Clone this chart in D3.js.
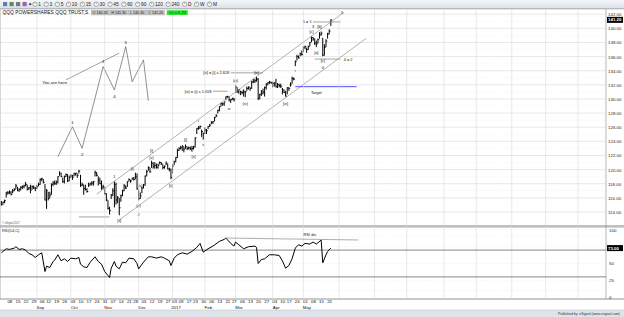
<!DOCTYPE html>
<html><head><meta charset="utf-8">
<script src="https://cdn.jsdelivr.net/npm/d3@7/dist/d3.min.js"></script>
<style>html,body{margin:0;padding:0;background:#fff;overflow:hidden}svg{display:block;font-family:"Liberation Sans",Arial,sans-serif}</style>
</head><body><svg id="c" width="624" height="317"></svg>
<script>
// ---------------- DATA ----------------
const holidays = ["2016-09-05","2016-11-24","2016-12-26","2017-01-02","2017-01-16","2017-02-20","2017-04-14","2017-05-29","2017-07-04","2017-09-04","2017-11-23","2017-12-25","2018-01-01"];
const firstBarDate = "2016-08-02";
const highs = [
 115.6,115.5,115.8,116.9,117.0,117.1,117.0,117.3,117.4,118.0,117.6,117.4,117.7,117.8,117.9,118.3,117.9,117.6,117.9,117.8,117.8,117.6,
 117.9,118.2,118.8,118.9,118.7,118.0,117.3,116.9,116.9,118.1,118.4,118.5,118.5,119.1,119.8,119.6,118.9,119.2,119.5,119.4,119.2,
 119.4,119.3,119.6,119.6,119.5,120.0,119.3,118.2,117.9,117.9,117.4,118.2,118.2,118.4,118.4,119.9,119.7,119.1,118.9,118.5,117.9,
 117.6,116.7,115.7,114.8,116.6,117.4,118.4,118.2,116.3,116.0,116.5,117.2,118.0,117.8,118.4,118.8,118.6,118.9,119.0,119.6,119.5,
 117.2,116.8,117.6,118.0,119.2,120.0,120.5,120.3,121.3,121.1,121.1,120.9,120.9,121.2,121.1,120.8,120.6,121.2,120.9,120.3,120.2,
 120.8,121.3,121.8,123.0,123.2,123.4,123.5,123.3,123.6,123.3,123.3,123.3,123.4,123.4,124.6,125.9,126.2,126.3,125.7,125.3,
 126.0,125.8,126.2,126.5,126.9,126.9,127.5,127.9,128.5,129.0,129.5,129.5,129.6,130.4,130.5,130.4,130.0,130.2,130.2,
 132.0,131.7,131.4,131.2,131.2,131.4,131.2,131.8,131.8,131.7,132.6,132.9,132.9,133.2,133.0,130.8,131.3,131.5,131.8,132.3,132.4,132.6,132.5,
 132.5,132.4,132.9,132.3,132.2,132.2,131.6,131.4,131.2,131.7,131.7,132.4,133.2,133.1,135.5,136.3,136.2,136.6,136.9,
 137.5,137.6,137.3,137.6,138.1,138.9,138.8,138.6,138.3,138.6,139.5,139.6,138.7,137.8,138.5,139.4,139.9,141.3];
const lows = [
 114.9,115.0,115.2,116.0,116.4,116.5,116.3,116.6,116.9,117.2,116.9,116.8,117.0,117.2,117.3,117.6,117.0,117.1,116.6,117.1,117.2,116.9,
 117.2,117.6,117.8,118.3,118.0,115.6,114.4,115.6,115.9,116.4,117.6,117.8,117.8,118.0,119.1,118.9,118.1,118.0,118.9,118.2,118.3,
 118.8,118.5,119.0,119.1,118.8,119.4,117.5,117.6,116.4,117.0,116.7,117.5,117.7,117.7,117.7,119.0,119.0,117.7,117.9,117.1,117.2,
 116.4,115.5,114.3,113.6,115.8,116.2,114.6,115.0,115.2,113.5,115.4,116.2,116.9,117.2,117.5,118.3,118.1,118.5,118.4,118.6,117.1,
 115.6,115.8,116.6,117.3,117.7,119.0,119.8,119.5,120.2,120.1,120.1,120.1,120.1,120.7,120.6,120.0,120.1,120.6,120.0,119.7,118.6,
 119.4,120.6,121.0,121.6,122.6,122.8,122.6,122.4,122.9,122.7,122.8,122.7,122.5,122.8,123.1,125.0,125.6,125.7,124.6,124.2,
 125.0,125.0,125.7,126.0,126.4,126.4,126.8,127.4,127.9,128.2,128.9,129.0,129.0,129.8,130.1,129.6,129.4,129.8,129.6,
 130.8,130.8,130.7,130.5,130.6,130.3,130.2,131.1,131.3,131.1,131.4,132.2,132.2,132.4,129.8,129.9,130.4,130.6,130.3,131.3,131.9,132.1,132.1,
 131.6,131.7,131.6,131.5,131.6,131.5,130.6,130.8,130.3,130.6,131.1,131.7,132.1,132.6,134.6,135.4,135.7,136.0,136.1,
 136.6,137.0,136.5,136.9,137.4,138.0,138.2,137.6,137.3,137.8,138.5,138.9,136.0,136.1,137.3,138.5,139.1,140.3];
const closes = [
 115.0,115.4,115.6,116.7,116.7,116.8,116.5,117.0,117.2,117.7,117.1,117.2,117.5,117.6,117.7,117.9,117.2,117.4,117.1,117.6,117.4,117.3,
 117.6,117.9,118.6,118.7,118.2,115.7,117.0,115.9,116.4,117.9,118.1,118.0,118.2,119.0,119.5,119.0,118.3,119.0,119.3,118.4,118.9,
 119.1,118.9,119.4,119.5,119.2,119.8,117.8,117.9,117.3,117.2,116.9,117.8,118.0,118.1,118.3,119.6,119.2,118.5,118.0,117.5,117.6,
 116.6,115.7,114.5,114.2,116.4,117.0,117.9,115.7,116.0,114.6,116.3,117.0,117.7,117.4,118.3,118.6,118.4,118.8,118.6,119.0,117.3,
 115.9,116.3,117.4,117.8,119.1,119.7,120.3,119.7,120.9,120.4,120.6,120.3,120.6,121.0,120.8,120.3,120.5,120.9,120.1,120.0,118.9,
 120.5,121.1,121.7,122.7,123.0,123.1,123.3,122.9,123.3,123.0,123.1,122.9,123.0,123.2,124.5,125.8,125.9,126.1,125.4,125.1,
 125.6,125.5,126.1,126.3,126.7,126.8,127.4,127.6,128.4,128.9,129.4,129.3,129.6,130.3,130.3,129.9,129.9,130.1,129.9,
 131.7,131.1,131.3,131.0,130.9,131.0,131.0,131.5,131.7,131.5,132.4,132.5,132.6,132.8,130.1,130.6,130.8,131.0,131.6,132.0,132.3,132.4,132.3,
 132.2,132.3,131.7,132.0,131.9,131.8,131.3,130.9,130.4,131.6,131.5,132.0,132.9,132.8,135.3,136.0,135.8,136.4,136.3,
 137.3,137.4,137.0,137.4,138.0,138.7,138.5,137.9,137.8,138.4,139.1,139.3,136.2,137.3,138.2,139.2,139.6,141.2];
const lastOpen = 140.45;
const lastVolume = "8.2M";

const rsiDates = ["2016-08-02","2016-08-05","2016-08-09","2016-08-12","2016-08-15","2016-08-17","2016-08-19","2016-08-23","2016-08-25","2016-08-29","2016-08-31",
 "2016-09-02","2016-09-07","2016-09-09","2016-09-12","2016-09-14","2016-09-16","2016-09-19","2016-09-21","2016-09-23","2016-09-27","2016-09-29",
 "2016-10-03","2016-10-06","2016-10-10","2016-10-11","2016-10-13","2016-10-17","2016-10-19","2016-10-24","2016-10-26","2016-10-28",
 "2016-11-01","2016-11-03","2016-11-04","2016-11-07","2016-11-09","2016-11-10","2016-11-14","2016-11-16","2016-11-18","2016-11-22","2016-11-28","2016-11-30",
 "2016-12-01","2016-12-06","2016-12-09","2016-12-13","2016-12-16","2016-12-21","2016-12-23","2016-12-29","2016-12-30",
 "2017-01-04","2017-01-06","2017-01-11","2017-01-17","2017-01-20","2017-01-25","2017-01-27","2017-01-31",
 "2017-02-03","2017-02-08","2017-02-14","2017-02-17","2017-02-21","2017-02-24","2017-02-28",
 "2017-03-01","2017-03-03","2017-03-08","2017-03-13","2017-03-17","2017-03-20","2017-03-21","2017-03-23","2017-03-27","2017-03-30",
 "2017-04-04","2017-04-07","2017-04-11","2017-04-13","2017-04-18","2017-04-20","2017-04-24","2017-04-26","2017-04-28",
 "2017-05-02","2017-05-05","2017-05-09","2017-05-11","2017-05-16","2017-05-17","2017-05-19","2017-05-22","2017-05-24"];
const rsiValues = [66,72,71,73,75,71,72,70,65,63,59,
 63,66,38,46,44,53,55,63,54,57,53,
 58,57,59,49,45,44,52,60,53,49,
 38,32,29,43,53,46,42,52,51,58,57,50,
 42,52,60,60,58,60,58,54,47,
 58,63,66,64,68,74,80,67,
 72,76,83,86,88,80,76,
 82,78,72,75,76,74,50,56,57,63,
 63,62,54,43,47,57,73,78,76,
 80,79,82,79,85,51,63,68,73];

const priceTicks = [114,116,118,120,122,124,126,128,130,132,134,136,138,140,142];
const rsiTicks = [0,25,50,100];
const rsiLevels = [70,30];
const weekTicks = ["2016-08-08","2016-08-15","2016-08-22","2016-08-29","2016-09-06","2016-09-12","2016-09-19","2016-09-26","2016-10-03","2016-10-10","2016-10-17","2016-10-24","2016-10-31",
 "2016-11-07","2016-11-14","2016-11-21","2016-11-28","2016-12-05","2016-12-12","2016-12-19","2016-12-27","2017-01-03","2017-01-09","2017-01-17","2017-01-23","2017-01-30",
 "2017-02-06","2017-02-13","2017-02-21","2017-02-27","2017-03-06","2017-03-13","2017-03-20","2017-03-27","2017-04-03","2017-04-10","2017-04-17","2017-04-24","2017-05-01","2017-05-08","2017-05-15","2017-05-22"];
const monthNames = ["Sep","Oct","Nov","Dec","2017","Feb","Mar","Apr","May"];
const monthStarts = ["2016-09-01","2016-10-03","2016-11-01","2016-12-01","2017-01-03","2017-02-01","2017-03-01","2017-04-03","2017-05-01"];
const futureMonthStarts = ["2017-06-01","2017-07-03","2017-08-01","2017-09-01","2017-10-02","2017-11-01","2017-12-01","2018-01-02"];
const toolbarItems = ["1","3","5","10","15","30","45","60","90","120","240","D","W","M"];

// annotations: [text, date, price]
const waveLabels = [
 ["1","2016-11-09",119.0],["[ii]","2016-11-14",112.8],["(i)","2016-11-25",120.1],["(a)","2016-12-02",117.8],
 ["(c)","2016-12-01",114.85],["2","2016-12-01",113.7],["[i]","2016-12-13",122.65],["(v)","2016-12-13",121.75],
 ["[ii]","2016-12-30",117.8],["[i]","2017-01-13",124.3],["[ii]","2017-01-23",121.9],["i","2017-01-26",126.9],
 ["ii","2017-01-31",123.5],["iv","2017-02-23",128.7],["(iii)","2017-03-01",132.6],["(iv)","2017-03-09",129.4],
 ["[iii]","2017-03-20",133.7],["[iv]","2017-04-13",129.4],["i","2017-04-24",134.0],["[a]","2017-05-11",136.6],
 ["[c]","2017-05-08",139.5],["3","2017-05-09",140.3],["[b]","2017-05-15",140.3],["[c]","2017-05-17",135.4],
 ["4","2017-05-17",134.5],["5","2017-06-05",142.3]];
const idealPath = [["2016-09-21",121.83],["2016-10-04",126.07],["2016-10-12",123.02],["2016-10-31",134.57],["2016-11-09",131.27],
 ["2016-11-18",137.4],["2016-11-25",132.44],["2016-12-06",135.52],["2016-12-09",129.75]];
const idealLabels = [["1","2016-10-04",126.74],["2","2016-10-12",122.07],["3","2016-10-31",135.37],["4","2016-11-09",130.42],["5","2016-11-18",138.06]];
const youAreHere = {text:"You are here", date:"2016-09-19", price:132.4, from:["2016-09-28",132.7], to:["2016-11-14",136.5]};
const channels = [[["2016-10-25",116.5],["2017-06-06",142.25]], [["2016-11-14",112.87],["2017-06-26",138.6]]];
const grayLines = [[["2016-10-10",113.3],["2016-11-04",113.3]], [["2017-02-24",133.7],["2017-03-24",133.7]],
 [["2017-02-08",131.1],["2017-02-22",131.1]], [["2017-05-09",140.9],["2017-06-02",140.9]], [["2017-05-10",135.65],["2017-06-02",135.65]]];
const fibTexts = [["[iii] = [i] x 2.618","2017-02-24",133.7,"end"],["(iii) = (i) x 1.618","2017-02-08",131.1,"end"],
 ["5 = 1","2017-05-09",140.9,"end"],["4 = 2","2017-06-05",135.65,"start"]];
const target = {from:"2017-04-24", to:"2017-06-16", price:131.74, label:"Target", labelDate:"2017-05-11", labelPrice:130.85};
const rsiDiv = {from:["2017-02-21",88], to:["2017-06-19",85.1], label:"RSI div", labelDate:"2017-05-05", labelValue:94};

// ---------------- LAYOUT ----------------
const svg = d3.select("#c");
const plotR = 606, pTop = 9, pBot = 226, rTop = 227, rBot = 299;
const FS = 4.4, FONT = "#111";
const fmtD = d3.utcFormat("%Y-%m-%d");
const calendar = d3.utcDays(new Date("2016-08-01T00:00:00Z"), new Date("2018-03-01T00:00:00Z"))
  .filter(d => d.getUTCDay() !== 0 && d.getUTCDay() !== 6 && !holidays.includes(fmtD(d))).map(fmtD);
const pos = new Map(calendar.map((d, i) => [d, i]));
const x = d3.scaleLinear().domain([0, 375]).range([-0.25, 605.4]);
const X = d => x(pos.get(d));
const y = d3.scaleLinear().domain([114, 142]).range([212, 14.2]);
const yr = d3.scaleLinear().domain([0, 100]).range([297, 230]);

svg.append("rect").attr("width",624).attr("height",317).attr("fill","#fff");
const defs = svg.append("defs");
defs.append("clipPath").attr("id","cp").append("rect").attr("x",0).attr("y",pTop+0.5).attr("width",plotR).attr("height",pBot-pTop-0.5);
defs.append("clipPath").attr("id","cr").append("rect").attr("x",0).attr("y",rTop+0.5).attr("width",plotR).attr("height",rBot-rTop-0.5);
const grad = defs.append("linearGradient").attr("id","tb").attr("x1",0).attr("x2",0).attr("y1",0).attr("y2",1);
grad.append("stop").attr("offset","0").attr("stop-color","#f4f6f9");
grad.append("stop").attr("offset","1").attr("stop-color","#dde2e8");

// toolbar
svg.append("rect").attr("x",0).attr("y",0).attr("width",624).attr("height",8.5).attr("fill","url(#tb)");
svg.append("line").attr("x1",0).attr("x2",624).attr("y1",8.5).attr("y2",8.5).attr("stroke","#9aa3ad").attr("stroke-width",0.6);
const iconCols = ["#3b6db3","#4a7a3a","#666","#8a4b9c"];
iconCols.forEach((c,i)=>svg.append("rect").attr("x",3+i*6.5).attr("y",2).attr("width",4.2).attr("height",4.2).attr("fill",c).attr("opacity",0.85));
svg.append("text").attr("x",28).attr("y",6.2).attr("font-size",5).attr("fill","#222").text("✦");
let tx = 35;
toolbarItems.forEach(t => {
  svg.append("circle").attr("cx",tx).attr("cy",4.2).attr("r",2.2).attr("fill","#fff").attr("stroke","#555").attr("stroke-width",0.5);
  svg.append("line").attr("x1",tx).attr("x2",tx).attr("y1",4.2).attr("y2",2.7).attr("stroke","#333").attr("stroke-width",0.4);
  const tt = svg.append("text").attr("x",tx+3.3).attr("y",5.9).attr("font-size",4.8).attr("fill","#222").text(t);
  tx += 3.3 + tt.node().getComputedTextLength() + 5.2;
});

// panel frames
svg.append("line").attr("x1",0).attr("x2",624).attr("y1",pTop).attr("y2",pTop).attr("stroke","#aaa").attr("stroke-width",0.6);
svg.append("line").attr("x1",0).attr("x2",624).attr("y1",pBot).attr("y2",pBot).attr("stroke","#777").attr("stroke-width",0.9);
svg.append("line").attr("x1",0).attr("x2",624).attr("y1",rTop+0.3).attr("y2",rTop+0.3).attr("stroke","#999").attr("stroke-width",0.5);
svg.append("line").attr("x1",0).attr("x2",624).attr("y1",rBot).attr("y2",rBot).attr("stroke","#777").attr("stroke-width",0.8);
svg.append("line").attr("x1",plotR).attr("x2",plotR).attr("y1",pTop).attr("y2",rBot).attr("stroke","#888").attr("stroke-width",0.6);
svg.append("line").attr("x1",0.3).attr("x2",0.3).attr("y1",pTop).attr("y2",rBot).attr("stroke","#aaa").attr("stroke-width",0.6);

// grids
const gp = svg.append("g").attr("clip-path","url(#cp)");
d3.range(115, 142, 2).forEach(v => gp.append("line").attr("x1",0).attr("x2",plotR).attr("y1",y(v)).attr("y2",y(v)).attr("stroke","#d4d4d4").attr("stroke-width",0.5).attr("stroke-dasharray","0.6,2.2"));
priceTicks.forEach(v => gp.append("line").attr("x1",0).attr("x2",plotR).attr("y1",y(v)).attr("y2",y(v)).attr("stroke","#d9d9d9").attr("stroke-width",0.6));
monthStarts.concat(futureMonthStarts).forEach(d => {
  svg.append("line").attr("x1",X(d)).attr("x2",X(d)).attr("y1",pTop).attr("y2",rBot).attr("stroke","#dadada").attr("stroke-width",0.6);
});
const gr = svg.append("g").attr("clip-path","url(#cr)");
[25,50,75,90,10].forEach(v => gr.append("line").attr("x1",0).attr("x2",plotR).attr("y1",yr(v)).attr("y2",yr(v)).attr("stroke","#cfcfcf").attr("stroke-width",0.5).attr("stroke-dasharray","0.6,2.2"));
rsiLevels.forEach(v => gr.append("line").attr("x1",0).attr("x2",plotR).attr("y1",yr(v)).attr("y2",yr(v)).attr("stroke","#555").attr("stroke-width",0.7));

// title row
const title = svg.append("text").attr("x",2.5).attr("y",13.9).attr("font-size",4.9).attr("fill","#111").text("QQQ   POWERSHARES QQQ TRUST,S");
const titleEnd = 2.5 + title.node().getComputedTextLength();
const n = closes.length - 1;
const boxes = [["O "+lastOpen.toFixed(2)],["H "+highs[n].toFixed(2)],["L "+lows[n].toFixed(2)],["C "+closes[n].toFixed(2)]];
let bx = Math.max(82, titleEnd + 3);
boxes.forEach(b => {
  svg.append("rect").attr("x",bx).attr("y",10.2).attr("width",17.8).attr("height",4.8).attr("fill","#c9c9c9").attr("stroke","#8c8c8c").attr("stroke-width",0.3);
  svg.append("text").attr("x",bx+8.9).attr("y",13.8).attr("font-size",3.7).attr("text-anchor","middle").attr("fill","#111").text(b[0]);
  bx += 18.5;
});
svg.append("rect").attr("x",bx+1.5).attr("y",10.2).attr("width",21).attr("height",4.8).attr("fill","#2ee62e");
svg.append("text").attr("x",bx+12).attr("y",13.8).attr("font-size",3.7).attr("text-anchor","middle").attr("fill","#063").text("Vol = "+lastVolume);

// price bars
const bars = closes.map((c,i) => ({i: pos.get(firstBarDate)+i, h: highs[i], l: lows[i], c}));
const gb = gp.append("g").attr("stroke","#000");
gb.selectAll("line.v").data(bars).join("line").attr("class","v").attr("stroke-width",1.0)
  .attr("x1",d=>x(d.i)).attr("x2",d=>x(d.i)).attr("y1",d=>y(d.h)+0.3).attr("y2",d=>y(d.l)-0.3);
gb.selectAll("line.c").data(bars).join("line").attr("class","c")
  .attr("x1",d=>x(d.i)).attr("x2",d=>x(d.i)+1.3).attr("y1",d=>y(d.c)).attr("y2",d=>y(d.c)).attr("stroke-width",0.9);

// channels and lines
const seg = (g, p, col, w) => g.append("line").attr("x1",X(p[0][0])).attr("y1",y(p[0][1])).attr("x2",X(p[1][0])).attr("y2",y(p[1][1])).attr("stroke",col).attr("stroke-width",w);
channels.forEach(c => seg(gp, c, "#8a8a8a", 0.65));
grayLines.forEach(c => seg(gp, c, "#666", 0.6));
gp.append("line").attr("x1",X(target.from)).attr("x2",X(target.to)).attr("y1",y(target.price)).attr("y2",y(target.price)).attr("stroke","#3a3aff").attr("stroke-width",0.9);

// idealized wave path
gp.append("path").datum(idealPath).attr("fill","none").attr("stroke","#555").attr("stroke-width",0.65)
  .attr("d", d3.line().x(d=>X(d[0])).y(d=>y(d[1])));
seg(gp, [youAreHere.from, youAreHere.to], "#555", 0.55);

// texts
const txt = (g, s, xx, yy, anchor="middle", fs=FS) => g.append("text").attr("x",xx).attr("y",yy).attr("font-size",fs)
  .attr("text-anchor",anchor).attr("dominant-baseline","central").attr("fill",FONT).text(s);
idealLabels.forEach(l => txt(gp, l[0], X(l[1]), y(l[2])));
txt(gp, youAreHere.text, X(youAreHere.date), y(youAreHere.price));
waveLabels.forEach(l => txt(gp, l[0], X(l[1]), y(l[2]), "middle", 3.9));
fibTexts.forEach(f => txt(gp, f[0], X(f[1]) + (f[3]==="end"?-1.5:1.5), y(f[2]), f[3], 3.9));
txt(gp, target.label, X(target.labelDate), y(target.labelPrice), "middle", 3.9);
txt(svg, "© eSignal 2017", 2, 223, "start", 2.6).attr("fill","#555");

// price axis
const ga = svg.append("g").attr("transform",`translate(${plotR},0)`)
  .call(d3.axisRight(y).tickValues(priceTicks).tickSize(0).tickPadding(2).tickFormat(d3.format(".2f")));
ga.select(".domain").remove();
ga.selectAll("text").attr("font-size",FS).attr("fill","#222").attr("font-family","Liberation Sans, Arial");
const lastY = y(closes[n]);
svg.append("rect").attr("x",plotR+1).attr("y",lastY-3).attr("width",16).attr("height",6).attr("fill","#000");
txt(svg, closes[n].toFixed(2), plotR+2, lastY, "start", FS).attr("fill","#fff").attr("font-weight","bold");

// RSI
const rsiPts = rsiDates.map((d,i)=>[X(d), yr(rsiValues[i])]);
gr.append("path").datum(rsiPts).attr("fill","none").attr("stroke","#000").attr("stroke-width",1.0).attr("d", d3.line());
gr.append("line").attr("x1",X(rsiDiv.from[0])).attr("y1",yr(rsiDiv.from[1])).attr("x2",X(rsiDiv.to[0])).attr("y2",yr(rsiDiv.to[1])).attr("stroke","#777").attr("stroke-width",0.6);
txt(gr, rsiDiv.label, X(rsiDiv.labelDate), yr(rsiDiv.labelValue), "middle", 3.9);
txt(svg, "RSI(14,C)", 2, 230.5, "start", 3.9);
const gra = svg.append("g").attr("transform",`translate(${plotR},0)`)
  .call(d3.axisRight(yr).tickValues(rsiTicks).tickSize(0).tickPadding(3).tickFormat(d3.format("d")));
gra.select(".domain").remove();
gra.selectAll("text").attr("font-size",FS).attr("fill","#222").attr("font-family","Liberation Sans, Arial");
const lastR = rsiValues[rsiValues.length-1];
svg.append("rect").attr("x",plotR+1).attr("y",yr(lastR)-3).attr("width",16).attr("height",6).attr("fill","#000");
txt(svg, lastR.toFixed(2), plotR+2, yr(lastR), "start", FS).attr("fill","#fff").attr("font-weight","bold");

// date axis
const gx = svg.append("g").attr("transform",`translate(0,${rBot})`)
  .call(d3.axisBottom(x).tickValues(weekTicks.map(d=>pos.get(d))).tickSize(0).tickPadding(1.2).tickFormat(i => calendar[i].slice(8)));
gx.select(".domain").remove();
gx.selectAll("text").attr("font-size",FS).attr("fill","#111").attr("dx",1.5).attr("font-family","Liberation Sans, Arial");
monthStarts.forEach((d,i) => txt(svg, monthNames[i], X(d)+3.5, 307.3, "middle", FS));

// footer
svg.append("rect").attr("x",0).attr("y",310).attr("width",624).attr("height",7).attr("fill","#dfe4ea");
svg.append("line").attr("x1",0).attr("x2",624).attr("y1",310).attr("y2",310).attr("stroke","#b8c0c8").attr("stroke-width",0.5);
txt(svg, "Published by: eSignal (www.esignal.com)", 620, 313.6, "end", 3.4).attr("fill","#333");
</script></body></html>
